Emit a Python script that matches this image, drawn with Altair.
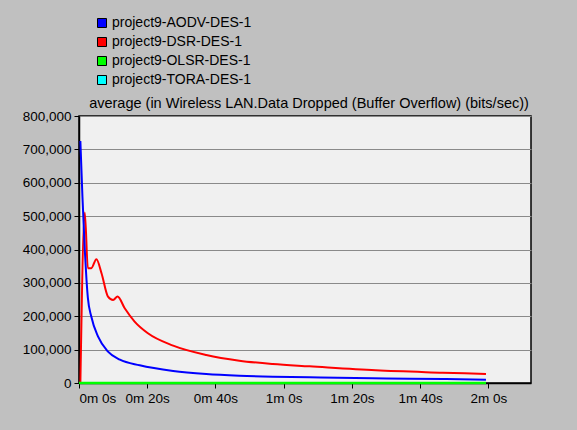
import altair as alt
import pandas as pd

series_names = ["project9-AODV-DES-1", "project9-DSR-DES-1", "project9-OLSR-DES-1", "project9-TORA-DES-1"]
series_colors = ["#0000ff", "#ff0000", "#00ff00", "#00ffff"]

aodv_t = [0.4, 1.0, 1.7, 2.2, 2.6, 3.6, 5.6, 8.5, 12.0, 17.8, 27.6, 37.3, 47.0, 56.8, 67.6, 86.0, 96.9, 107.0, 119.3]
aodv_v = [725000, 560000, 398000, 309000, 255000, 199000, 139000, 94000, 70000, 53000, 36000, 27000, 22000, 19000, 17000, 14000, 13000, 12000, 10000]

dsr_t = [0.4, 1.7, 2.6, 3.6, 5.1, 6.6, 8.5, 10.0, 11.3, 13.4, 16.3, 20.2, 27.6, 37.3, 47.0, 56.8, 67.6, 87.0, 106.6, 119.3]
dsr_v = [0, 511000, 344000, 344000, 371000, 329000, 259000, 249000, 259000, 224000, 184000, 149000, 112000, 84000, 67000, 57000, 50000, 38000, 31000, 27000]

olsr_t = [0.0, 119.3]
olsr_v = [0, 0]

tora_t = [0.0, 119.3]
tora_v = [0, 0]

x_ticks = [0, 20, 40, 60, 80, 100, 120]
y_ticks = [0, 100000, 200000, 300000, 400000, 500000, 600000, 700000, 800000]
title_text = "average (in Wireless LAN.Data Dropped (Buffer Overflow) (bits/sec))"


def frame(name, t, v):
    return pd.DataFrame({"t": t, "v": v, "series": name})


x_enc = alt.X(
    "t:Q",
    scale=alt.Scale(domain=[0, 132.5], nice=False, zero=False),
    axis=alt.Axis(
        values=x_ticks,
        labelExpr="floor(datum.value/60) + 'm ' + (datum.value % 60) + 's'",
        title=None,
        grid=False,
        tickSize=5,
        labelPadding=3,
    ),
)
y_enc = alt.Y(
    "v:Q",
    scale=alt.Scale(domain=[0, 800000], nice=False),
    axis=alt.Axis(values=y_ticks, format=",.0f", title=None, grid=True, tickSize=5, labelPadding=3),
)


def line_layer(name, t, v, interp="monotone", width=2):
    return alt.Chart(frame(name, t, v)).mark_line(strokeWidth=width, interpolate=interp, clip=False).encode(
        x=x_enc,
        y=y_enc,
        stroke=alt.Stroke("series:N", scale=alt.Scale(domain=series_names, range=series_colors), legend=None),
    )


legend_df = pd.DataFrame({"t": [0.0] * 4, "v": [0] * 4, "series": series_names})
legend_layer = alt.Chart(legend_df).mark_square(opacity=0, size=81, filled=True).encode(
    x=x_enc,
    y=y_enc,
    fill=alt.Fill(
        "series:N",
        scale=alt.Scale(domain=series_names, range=series_colors),
        legend=alt.Legend(
            title=None,
            orient="none",
            legendX=16,
            legendY=-100,
            symbolType="square",
            symbolSize=81,
            symbolOpacity=1,
            symbolStrokeColor="black",
            symbolStrokeWidth=1,
            labelFontSize=14,
            labelFont="Liberation Sans",
            labelColor="black",
            labelOffset=3,
            rowPadding=5,
            padding=0,
        ),
    ),
)

title_layer = alt.Chart(pd.DataFrame({"label": [title_text]})).mark_text(
    font="Liberation Sans", fontSize=14.5, color="black", align="center", baseline="middle"
).encode(
    x=alt.value(230),
    y=alt.value(-12),
    text="label:N",
)

chart = alt.layer(
    line_layer(series_names[3], tora_t, tora_v, "linear"),
    line_layer(series_names[1], dsr_t, dsr_v),
    line_layer(series_names[0], aodv_t, aodv_v),
    line_layer(series_names[2], olsr_t, olsr_v, "linear", 2.5),
    legend_layer,
    title_layer,
).resolve_scale(
    fill="independent", stroke="independent"
).properties(
    width=452,
    height=267,
    background="#c0c0c0",
    padding={"left": 79, "top": 116, "right": 46, "bottom": 47},
    autosize=alt.AutoSizeParams(type="none"),
).configure_view(
    fill="#f0f0f0", stroke="black", strokeWidth=1.5
).configure_axis(
    domainColor="black",
    domainWidth=1.5,
    tickColor="black",
    gridColor="#8a8a8a",
    gridWidth=1,
    labelFont="Liberation Sans",
    labelFontSize=13.5,
    labelColor="black",
)

chart.save("out.html", embed_options={"renderer": "svg", "actions": False})
